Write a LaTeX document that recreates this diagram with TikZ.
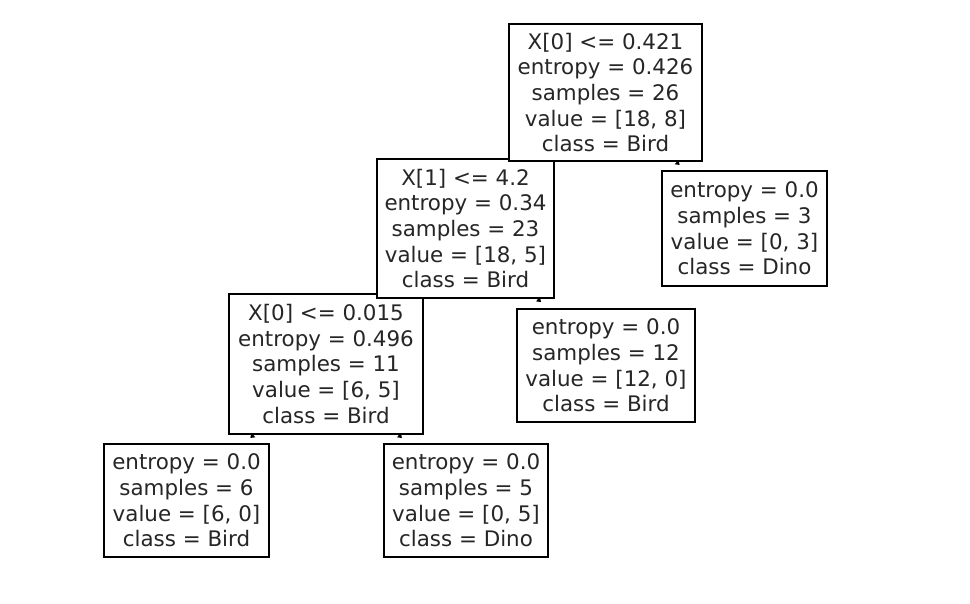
\documentclass[tikz,border=0pt]{standalone}
\usepackage{fontspec}
\setmainfont{DejaVu Sans}
\usetikzlibrary{calc,arrows.meta}
\pgfdeclarelayer{bg}
\pgfsetlayers{bg,main}
\begin{document}
\begin{tikzpicture}[x=1pt,y=-1pt,
  tbox/.style={draw=black,fill=white,line width=1.6pt,inner sep=0pt,align=center,
    font=\fontsize{21.4}{25.6}\selectfont,text=black!85},
  edge/.style={line width=1pt,-{Triangle[length=4pt,width=5.5pt]}}]
\useasboundingbox (0,0) rectangle (970,604);
% leaves and deeper nodes first (parents are drawn on top)
\node[tbox,minimum width=165,minimum height=113] (l6) at (186.5,500.5)
  {entropy = 0.0\\samples = 6\\value = [6, 0]\\class = Bird};
\node[tbox,minimum width=164,minimum height=113] (l5) at (466,500.5)
  {entropy = 0.0\\samples = 5\\value = [0, 5]\\class = Dino};
\node[tbox,minimum width=194,minimum height=140] (n2) at (326,364)
  {X[0] <= 0.015\\entropy = 0.496\\samples = 11\\value = [6, 5]\\class = Bird};
\node[tbox,minimum width=178,minimum height=113] (l12) at (606,365.5)
  {entropy = 0.0\\samples = 12\\value = [12, 0]\\class = Bird};
\node[tbox,minimum width=177,minimum height=139] (n1) at (465.5,228.5)
  {X[1] <= 4.2\\entropy = 0.34\\samples = 23\\value = [18, 5]\\class = Bird};
\node[tbox,minimum width=165,minimum height=115] (l3) at (744.5,228.5)
  {entropy = 0.0\\samples = 3\\value = [0, 3]\\class = Dino};
\node[tbox,minimum width=193,minimum height=137] (n0) at (605.5,92.5)
  {X[0] <= 0.421\\entropy = 0.426\\samples = 26\\value = [18, 8]\\class = Bird};
% connectors, hidden behind the boxes
\begin{pgfonlayer}{bg}
\draw[edge] (n0.center) -- ($(n0.center)!0.533!(n1.center)$);
\draw[edge] (n0.center) -- ($(n0.center)!0.533!(l3.center)$);
\draw[edge] (n1.center) -- ($(n1.center)!0.537!(n2.center)$);
\draw[edge] (n1.center) -- ($(n1.center)!0.537!(l12.center)$);
\draw[edge] (n2.center) -- ($(n2.center)!0.542!(l6.center)$);
\draw[edge] (n2.center) -- ($(n2.center)!0.542!(l5.center)$);
\end{pgfonlayer}
\end{tikzpicture}
\end{document}
